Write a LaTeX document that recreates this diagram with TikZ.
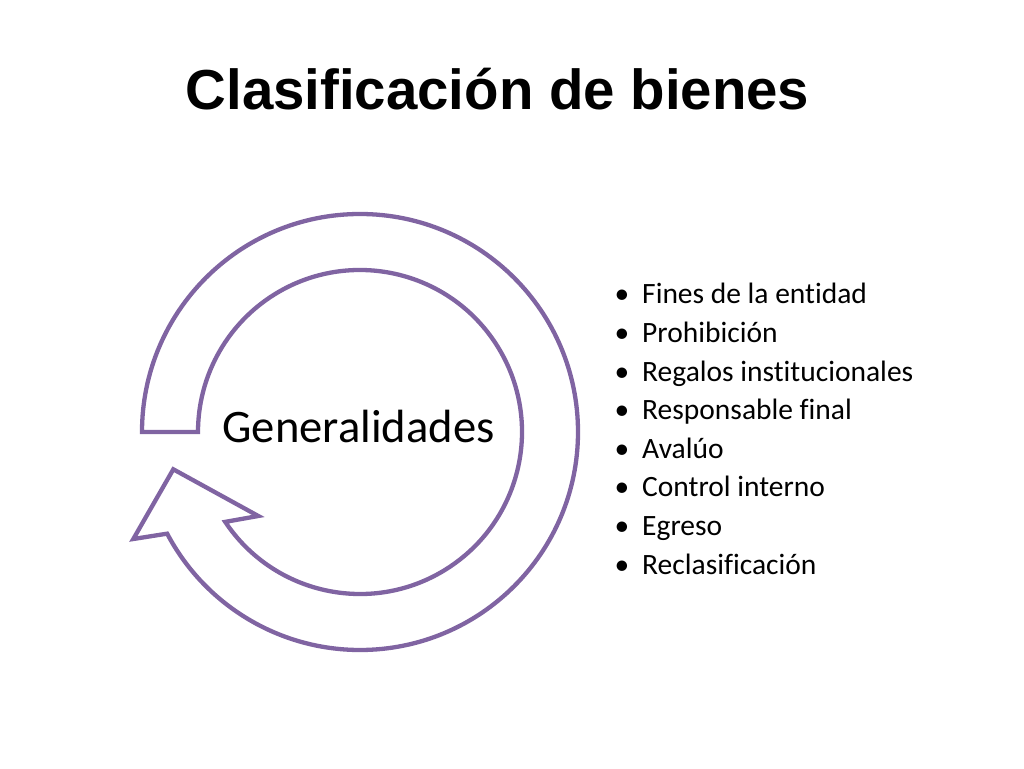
\documentclass[tikz,border=0pt]{standalone}
\usepackage{fontspec}
\setmainfont[Ligatures=NoCommon]{Carlito}
\newfontfamily\titlefont{Liberation Sans}
\usetikzlibrary{calc}
\definecolor{bandpurple}{RGB}{128,100,162}
\begin{document}
\begin{tikzpicture}[x=1pt,y=1pt,
    item/.style={anchor=base west,inner sep=0pt,font=\fontsize{29.5}{34}\selectfont},
    dot/.style={anchor=base,inner sep=0pt,font=\fontsize{29.5}{34}\selectfont}]
   \useasboundingbox (0,0) rectangle (1024,768);
   \coordinate (c) at (360,336);
   % circular arrow
   \filldraw[bandpurple,fill=white,line width=4.3pt] ($(c)+(180:218)$)
      arc[start angle=180,end angle=-152.2,radius=218] -- (133.3,229) -- (173.3,298.7)
      -- (258.3,252) -- ($(c)+(-146.3:162)$) arc[start angle=-146.3,end angle=180,radius=162] -- cycle;
   \node[anchor=base,inner sep=0pt,font=\titlefont\bfseries\fontsize{56.4}{60}\selectfont] (title) at (497.5,658) {Clasificación de bienes};
   \node[anchor=base,inner sep=0pt,font=\fontsize{46.6}{50}\selectfont] (gen) at (358.5,325) {Generalidades};
   % bullet list
   \foreach \t [count=\i] in {Fines de la entidad,Prohibición,Regalos institucionales,Responsable final,Avalúo,Control interno,Egreso,Reclasificación}
   {
     \node[dot] (b\i) at (622,{464-38.6*(\i-1)}) {\textbullet};
     \node[item] (i\i) at (642,{464-38.6*(\i-1)}) {\t};
   }
\end{tikzpicture}
\end{document}
